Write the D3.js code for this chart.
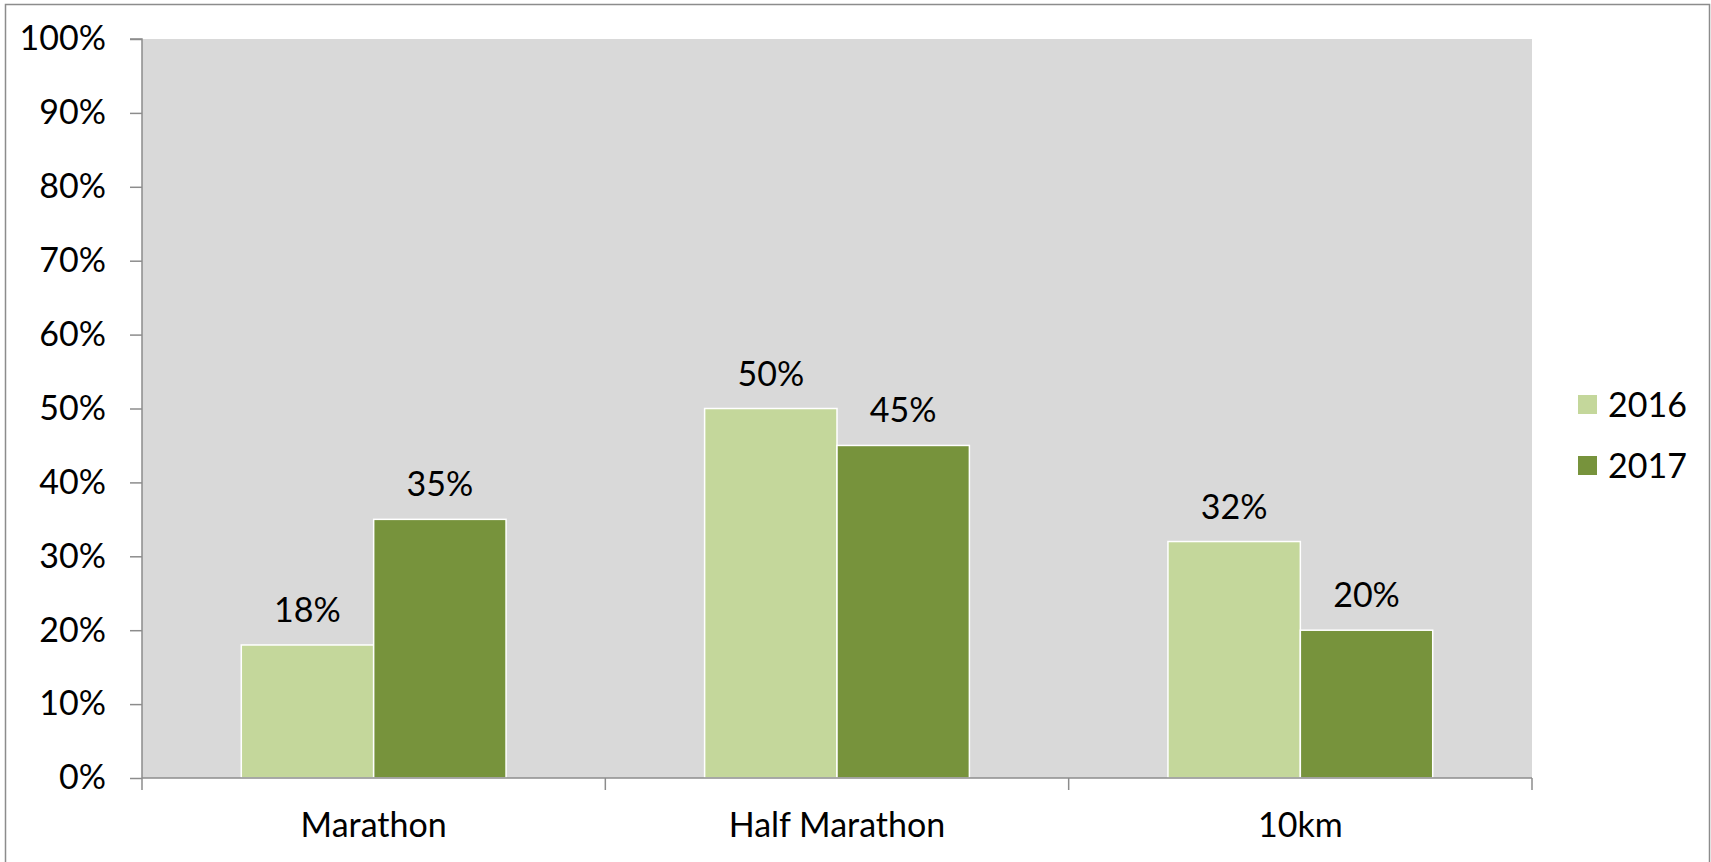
<!DOCTYPE html>
<html>
<head>
<meta charset="utf-8">
<script src="https://cdn.jsdelivr.net/npm/d3@7"></script>
<style>
  html, body { margin: 0; padding: 0; background: #fff; }
  svg { display: block; }
  text { font-family: Lato, "Open Sans", sans-serif; fill: #000; }
</style>
</head>
<body>
<svg id="chart" width="1711" height="862"></svg>
<script>
// Share of participants by race distance, per year
const categories = ["Marathon", "Half Marathon", "10km"];
const seriesNames = ["2016", "2017"];
const values2016 = [18, 50, 32];
const values2017 = [35, 45, 20];
const yTicks = [0, 10, 20, 30, 40, 50, 60, 70, 80, 90, 100];
const seriesColors = ["#C4D79B", "#77933C"];

const series = [values2016, values2017];
const FS = 34;

const svg = d3.select("#chart");
const W = 1711, H = 862;
const plot = { left: 142, top: 39, right: 1532, bottom: 778 };

// outer chart frame
svg.append("rect")
  .attr("x", 5.5).attr("y", 4.5)
  .attr("width", W - 7).attr("height", H + 10)
  .attr("fill", "#fff").attr("stroke", "#8c8c8c").attr("stroke-width", 1.5);

// plot background
svg.append("rect")
  .attr("x", plot.left).attr("y", plot.top)
  .attr("width", plot.right - plot.left).attr("height", plot.bottom - plot.top)
  .attr("fill", "#D9D9D9");

const x0 = d3.scaleBand().domain(categories).range([plot.left, plot.right]).paddingInner(0).paddingOuter(0);
// gap width of 150% between clusters: bar = band / 3.5
const x1 = d3.scaleBand().domain(seriesNames).range([0, x0.bandwidth()])
  .paddingInner(0).paddingOuter(0.75);
const y = d3.scaleLinear().domain([0, 100]).range([plot.bottom, plot.top]);

// bars
const groups = svg.append("g").selectAll("g")
  .data(categories)
  .join("g")
  .attr("transform", d => `translate(${x0(d)},0)`);

groups.selectAll("rect")
  .data((c, i) => seriesNames.map((s, j) => ({ s, j, v: series[j][i] })))
  .join("rect")
  .attr("x", d => x1(d.s))
  .attr("y", d => y(d.v))
  .attr("width", x1.bandwidth())
  .attr("height", d => y(0) - y(d.v))
  .attr("fill", d => seriesColors[d.j])
  .attr("stroke", "#fff")
  .attr("stroke-width", 1.5);

// value labels
groups.selectAll("text.val")
  .data((c, i) => seriesNames.map((s, j) => ({ s, j, v: series[j][i] })))
  .join("text")
  .attr("class", "val")
  .attr("x", d => x1(d.s) + x1.bandwidth() / 2)
  .attr("y", d => y(d.v) - 23)
  .attr("text-anchor", "middle")
  .attr("font-size", FS)
  .text(d => d.v + "%");

// y axis
const yAxis = d3.axisLeft(y).tickValues(yTicks).tickSize(12).tickPadding(24)
  .tickFormat(d => d + "%");
const gy = svg.append("g").attr("transform", `translate(${plot.left},0)`).call(yAxis);
gy.select(".domain").attr("stroke", "#8c8c8c").attr("stroke-width", 1.5).attr("d", `M-12,${plot.top}H0V${plot.bottom}`);
gy.selectAll(".tick line").attr("stroke", "#8c8c8c").attr("stroke-width", 1.5);
gy.selectAll(".tick text").attr("font-size", FS).attr("font-family", "Lato, 'Open Sans', sans-serif").attr("fill", "#000");

// x axis with boundary ticks between categories
const gx = svg.append("g").attr("transform", `translate(0,${plot.bottom})`);
gx.append("line").attr("x1", plot.left).attr("x2", plot.right)
  .attr("stroke", "#8c8c8c").attr("stroke-width", 1.5);
const boundaries = categories.map(c => x0(c)).concat([plot.right]);
gx.selectAll("line.tk").data(boundaries).join("line").attr("class", "tk")
  .attr("x1", d => d).attr("x2", d => d).attr("y1", 0).attr("y2", 12)
  .attr("stroke", "#8c8c8c").attr("stroke-width", 1.5);
gx.selectAll("text").data(categories).join("text")
  .attr("x", d => x0(d) + x0.bandwidth() / 2)
  .attr("y", 59)
  .attr("text-anchor", "middle")
  .attr("font-size", FS)
  .text(d => d);

// legend
const legend = svg.append("g").attr("transform", "translate(1578,395)");
const li = legend.selectAll("g").data(seriesNames).join("g")
  .attr("transform", (d, i) => `translate(0,${i * 61})`);
li.append("rect").attr("width", 19).attr("height", 19)
  .attr("fill", (d, i) => seriesColors[i]);
li.append("text").attr("x", 30).attr("y", 9.5).attr("dy", "0.36em")
  .attr("font-size", FS).text(d => d);
</script>
</body>
</html>
